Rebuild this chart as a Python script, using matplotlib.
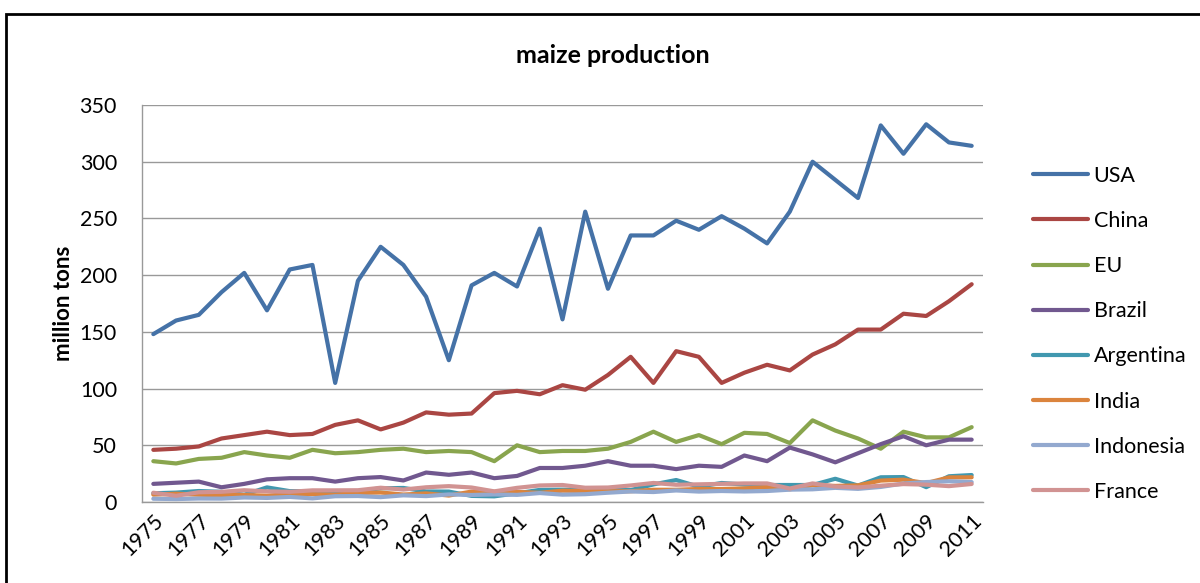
import matplotlib
matplotlib.use("Agg")
import matplotlib.pyplot as plt
from matplotlib.patches import Rectangle

plt.rcParams['font.family'] = ['Lato', 'DejaVu Sans']

years = list(range(1975, 2012))

usa = [148, 160, 165, 185, 202, 169, 205, 209, 105, 195, 225, 209, 181, 125, 191, 202, 190, 241, 161,
       256, 188, 235, 235, 248, 240, 252, 241, 228, 256, 300, 284, 268, 332, 307, 333, 317, 314]
china = [46, 47, 49, 56, 59, 62, 59, 60, 68, 72, 64, 70, 79, 77, 78, 96, 98, 95, 103,
         99, 112, 128, 105, 133, 128, 105, 114, 121, 116, 130, 139, 152, 152, 166, 164, 177, 192]
eu = [36, 34, 38, 39, 44, 41, 39, 46, 43, 44, 46, 47, 44, 45, 44, 36, 50, 44, 45,
      45, 47, 53, 62, 53, 59, 51, 61, 60, 52, 72, 63, 56, 47, 62, 57, 57, 66]
brazil = [16, 17, 18, 13, 16, 20, 21, 21, 18, 21, 22, 19, 26, 24, 26, 21, 23, 30, 30,
          32, 36, 32, 32, 29, 32, 31, 41, 36, 48, 42, 35, 43, 51, 58, 50, 55, 55]
argentina = [7.7, 8.3, 9.7, 9.0, 6.4, 12.9, 9.6, 9.6, 9.0, 9.5, 12.1, 12.4, 9.3, 9.2, 5.4, 5.0, 7.7, 10.7, 10.9,
             10.4, 11.4, 10.5, 15.5, 19.4, 13.5, 16.8, 15.4, 15.0, 15.0, 15.0, 20.5, 14.5, 21.8, 22.0, 13.1, 22.7, 23.8]
india = [6.5, 7.3, 6.4, 6.0, 6.2, 5.6, 7.0, 6.9, 6.5, 7.9, 8.4, 6.6, 7.6, 5.7, 9.2, 9.0, 8.9, 8.1, 10.0,
         9.6, 9.5, 9.5, 10.8, 10.8, 11.5, 11.5, 12.0, 13.2, 11.2, 14.9, 14.2, 14.7, 18.9, 19.7, 16.7, 21.7, 21.8]
indonesia = [2.9, 2.6, 3.1, 3.0, 4.0, 3.6, 4.5, 3.2, 5.1, 5.3, 4.3, 5.9, 5.2, 6.7, 6.2, 6.7, 6.3, 7.9, 6.5,
             6.9, 8.2, 9.3, 8.8, 10.2, 9.2, 9.7, 9.3, 9.7, 10.9, 11.2, 12.5, 11.6, 13.3, 16.3, 17.6, 18.3, 17.6]
france = [8.2, 5.5, 8.6, 9.0, 10.4, 9.4, 9.0, 10.3, 10.3, 10.4, 12.6, 11.0, 13.0, 14.0, 12.8, 9.4, 12.5, 14.6, 15.0,
          12.6, 12.8, 14.6, 16.8, 15.2, 15.6, 16.0, 16.4, 16.4, 11.9, 16.4, 13.7, 12.9, 14.4, 15.8, 15.3, 14.0, 15.9]

names = ["USA", "China", "EU", "Brazil", "Argentina", "India", "Indonesia", "France"]
series = [usa, china, eu, brazil, argentina, india, indonesia, france]
colors = ["#4572A7", "#AA4643", "#89A54E", "#71588F", "#4198AF", "#DB843D", "#93A9CF", "#D19392"]

fig = plt.figure(figsize=(12, 5.83), dpi=100)
ax = fig.add_axes([0.1183, 0.1389, 0.7009, 0.681])

for name, vals, c in zip(names, series, colors):
    ax.plot(years, vals, color=c, lw=3, label=name, solid_capstyle='round', solid_joinstyle='round')

ax.set_xlim(1974.5, 2011.5)
ax.set_ylim(0, 350)
ax.set_yticks(range(0, 351, 50))
ax.set_xticks(years[::2])
ax.set_xticklabels([str(y) for y in years[::2]], rotation=45, ha='right', rotation_mode='anchor')
ax.tick_params(axis='both', length=0, labelsize=15.5, colors='black')
ax.tick_params(axis='y', pad=18)
ax.tick_params(axis='x', pad=6)
ax.grid(axis='y', color='#999999', lw=1)
ax.set_axisbelow(True)
for s in ['top', 'right']:
    ax.spines[s].set_visible(False)
for s in ['left', 'bottom']:
    ax.spines[s].set_color('#999999')
    ax.spines[s].set_linewidth(1)

ax.set_ylabel("million tons", fontsize=16, fontweight='bold', labelpad=4)
fig.text(0.511, 0.905, "maize production", ha='center', va='center', fontsize=18, fontweight='bold')

ax.legend(loc='upper left', bbox_to_anchor=(0.845, 0.749), bbox_transform=fig.transFigure,
          frameon=False, fontsize=15.5, handlelength=2.55, handletextpad=0.25, labelspacing=1.17)

# outer chart border
fig.patches.append(Rectangle((6 / 1200, -0.1), 1.2, 1.1 - 14 / 583, transform=fig.transFigure,
                             fill=False, edgecolor='black', lw=2))

fig.savefig("out.png", dpi=100)
